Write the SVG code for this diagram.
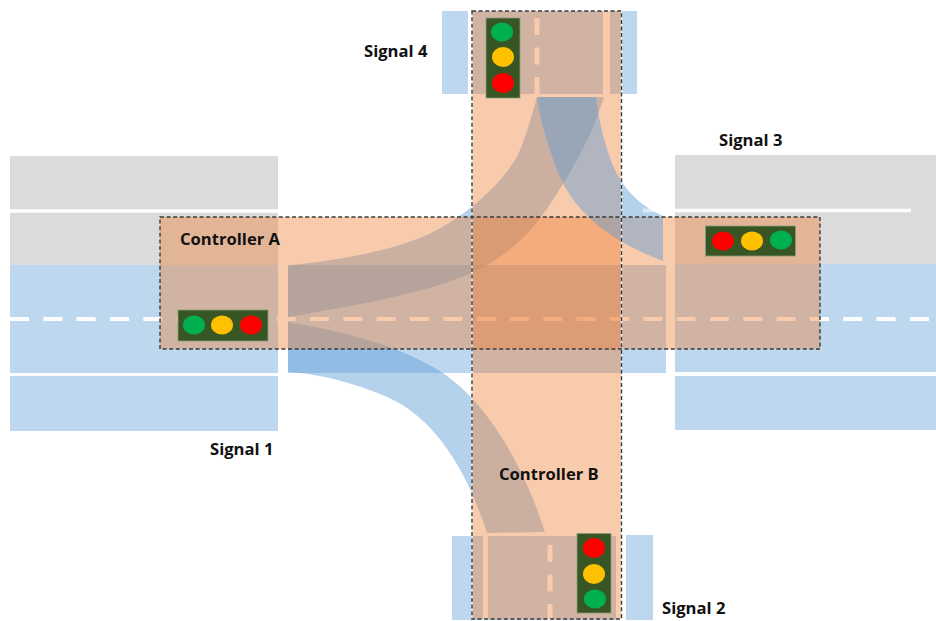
<svg xmlns="http://www.w3.org/2000/svg" width="936" height="621" viewBox="0 0 936 621">
  <style>
    .blue { fill: #bdd7ee; }
    .gray { fill: #dbdbdb; }
    .flow { fill: #5b9bd5; fill-opacity: .45; }
    .zone { fill: #ed7d31; fill-opacity: .4; }
    .zone-line { fill: none; stroke: #3a3a3a; stroke-width: 1.4; stroke-dasharray: 4 2.6; }
    .halo { fill: none; stroke: #fff; stroke-width: 1.6; stroke-opacity: .75; }
    .lane { stroke: #fff; stroke-width: 3.5; fill: none; }
    .dash { stroke: #fff; stroke-width: 4; stroke-dasharray: 19 14.33; fill: none; }
    .vdash { stroke: #fff; stroke-width: 5; stroke-dasharray: 17 12.5; fill: none; }
    .housing { fill: #375623; stroke: #8a9c7c; stroke-width: .8; }
    .g { fill: #00b050; } .y { fill: #ffc000; } .r { fill: #ff0000; }
    text { font-family: "Open Sans", "Liberation Sans", sans-serif; font-size: 16.6px; font-weight: 700; fill: #111; }
  </style>

  <g id="roads">
    <rect class="gray" x="10" y="156" width="268" height="109"/>
    <rect class="blue" x="10" y="265" width="268" height="108"/>
    <rect class="blue" x="10" y="376" width="268" height="55"/>
    <rect class="gray" x="675" y="155" width="261" height="109"/>
    <rect class="blue" x="675" y="264" width="261" height="108"/>
    <rect class="blue" x="675" y="376" width="261" height="54"/>
    <rect class="blue" x="288" y="265" width="378" height="108"/>
    <!-- north arm -->
    <rect class="blue" x="442" y="11" width="26" height="83"/>
    <rect class="blue" x="472" y="11" width="131" height="83"/>
    <rect class="blue" x="610" y="11" width="27" height="83"/>
    <!-- south arm -->
    <rect class="blue" x="452" y="536" width="31" height="84"/>
    <rect class="blue" x="488" y="536" width="128" height="84"/>
    <rect class="blue" x="626" y="535" width="27" height="85"/>
    <path class="lane" d="M10 211H278"/>
  </g>

  <g id="turning-paths-lower">
    <path class="flow" d="M288 265.5C340 260 400 250 437 230C470 212 500 185 517 157C525 140 532 115 537 97L604 97C590 140 575 165 553 200C530 235 505 258 473 272C430 292 370 303 288 317Z"/>
    <path class="flow" d="M288 322C340 331 400 345 443 373C490 405 525 470 545 532L487 533C470 480 440 420 387 397C355 383 320 374 288 372Z"/>
  </g>

  <g id="lane-marks">
    <path class="dash" d="M10 319H931"/>
    <path class="vdash" d="M537 18V94"/>
    <path class="vdash" d="M550 545V620"/>
  </g>

  <g id="controller-b">
    <rect class="zone" x="472" y="11" width="149.500" height="608"/>
  </g>
  <g id="controller-a">
    <rect class="zone" x="160" y="217" width="660" height="132"/>
  </g>

  <g id="turning-path-upper">
    <path class="flow" d="M537 97C541 125 550 155 563 183C580 217 615 243 663 261L663 216C645 208 630 195 622 182C610 165 600 130 596 97Z"/>
    <path class="lane" d="M663 210.500H911"/>
    <path class="lane" d="M643 210.500H663" stroke-opacity=".55"/>
  </g>

  <g id="controller-outlines">
    <path class="halo" d="M472 11V619M621.500 11V619"/>
    <rect class="zone-line" x="472" y="11" width="149.500" height="608"/>
    <rect class="zone-line" x="160" y="217" width="660" height="132"/>
  </g>

  <g id="signal-1">
    <rect class="housing" x="178" y="310" width="90" height="31"/>
    <ellipse class="g" cx="194" cy="325" rx="11" ry="9.500"/>
    <ellipse class="y" cx="222" cy="325" rx="11" ry="9.500"/>
    <ellipse class="r" cx="251" cy="325" rx="11" ry="9.500"/>
    <text x="210" y="455">Signal 1</text>
  </g>
  <g id="signal-2">
    <rect class="housing" x="577" y="533.500" width="34" height="79.500"/>
    <ellipse class="r" cx="594" cy="548" rx="11" ry="10"/>
    <ellipse class="y" cx="594" cy="574" rx="11" ry="10"/>
    <ellipse class="g" cx="595" cy="599" rx="11" ry="9.500"/>
    <text x="662" y="614">Signal 2</text>
  </g>
  <g id="signal-3">
    <rect class="housing" x="705.500" y="226" width="90" height="30"/>
    <ellipse class="r" cx="723" cy="241" rx="11" ry="9.500"/>
    <ellipse class="y" cx="752" cy="241" rx="11" ry="9.500"/>
    <ellipse class="g" cx="781" cy="240" rx="11" ry="9.500"/>
    <text x="719" y="146">Signal 3</text>
  </g>
  <g id="signal-4">
    <rect class="housing" x="486" y="18" width="34" height="80"/>
    <ellipse class="g" cx="502" cy="32" rx="11" ry="9.500"/>
    <ellipse class="y" cx="503" cy="57" rx="11" ry="10"/>
    <ellipse class="r" cx="503" cy="83" rx="11" ry="10"/>
    <text x="364" y="57">Signal 4</text>
  </g>

  <g id="labels">
    <text x="180" y="245">Controller A</text>
    <text x="499" y="480">Controller B</text>
  </g>
</svg>
